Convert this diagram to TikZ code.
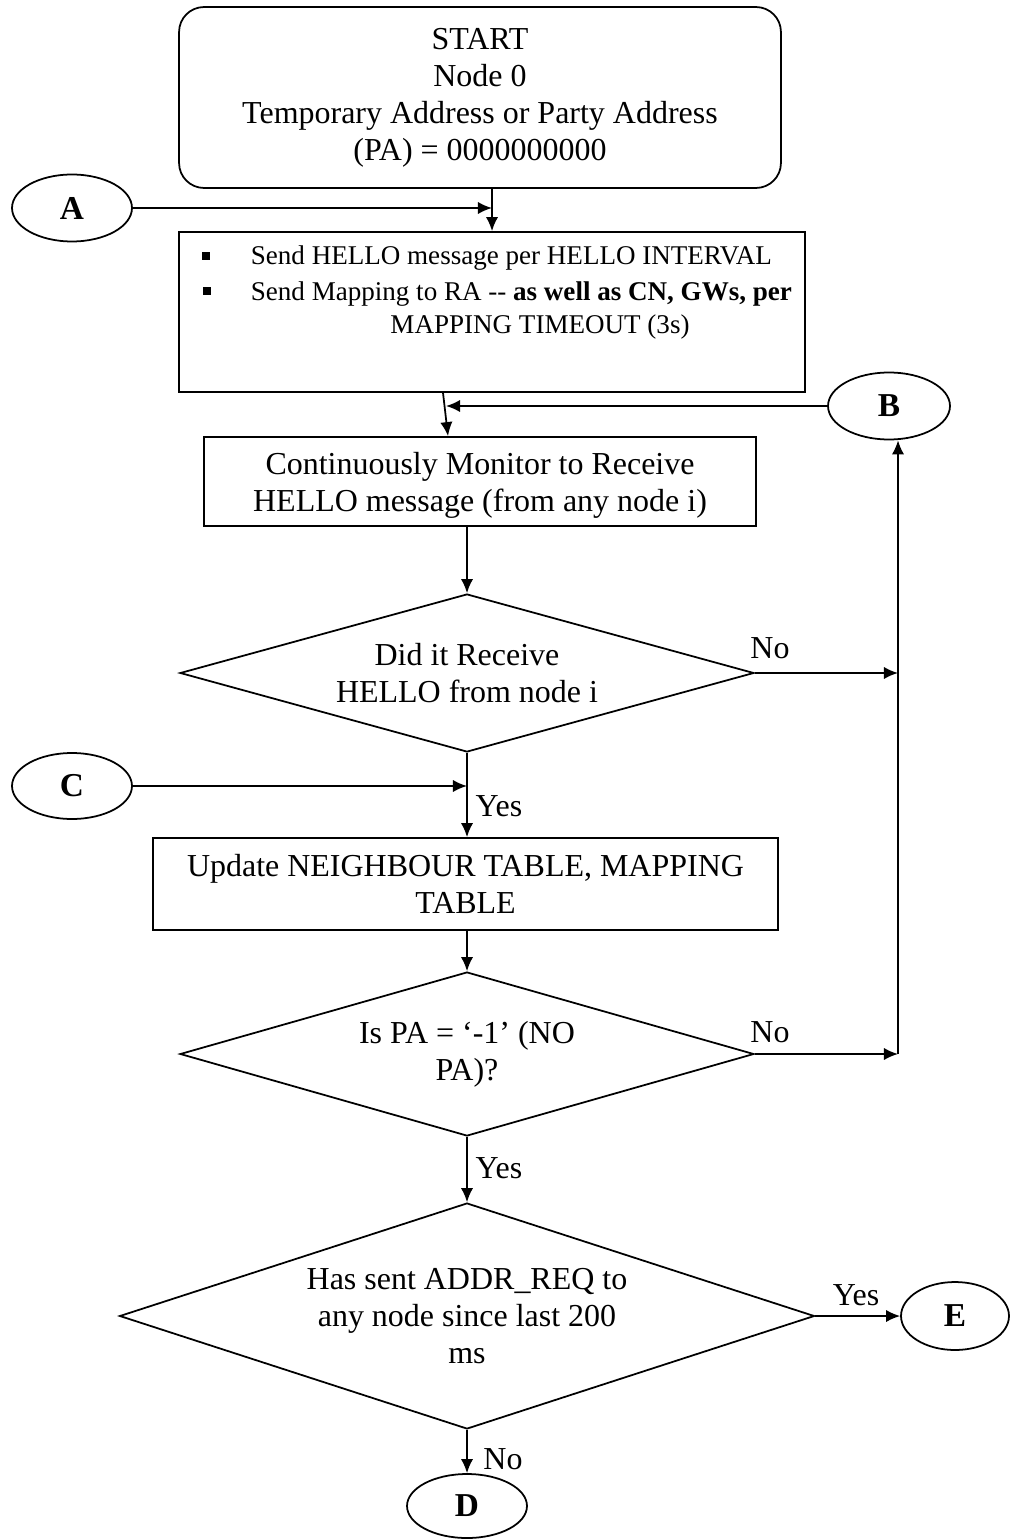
\documentclass[tikz,border=0pt]{standalone}
\usepackage{fontspec}
\setmainfont{Liberation Serif}
\usepackage{tikz}
\usetikzlibrary{arrows.meta, shapes.geometric, positioning}
\tikzset{>={Latex[length=8pt,width=7pt]}}
\tikzset{
  box/.style = {draw, line width=1pt, align=center, inner sep=0pt, font=\fontsize{18.2}{21}\selectfont},
  rbox/.style = {box, rounded corners=0.5cm},
  dec/.style = {box, diamond, aspect=3.5},
  conn/.style = {draw, ellipse, line width=1pt, inner sep=0pt, font=\fontsize{19}{22}\selectfont\bfseries},
  lbl/.style = {inner sep=0pt, font=\fontsize{18.2}{21}\selectfont},
  bul/.style = {inner sep=0pt, font=\fontsize{15.4}{18}\selectfont},
  sq/.style = {fill, inner sep=0pt}
}

\begin{document}
\begin{tikzpicture}[x=0.02cm, y=-0.02cm, line width=1pt]
\useasboundingbox (0,0) rectangle (1010,1540);
% boxes
\node[rbox, minimum width=12.04cm, minimum height=3.62cm] (start) at (480,97.5)
  {START\\Node 0\\Temporary Address or Party Address\\(PA) = 0000000000};
\node[box, minimum width=12.52cm, minimum height=3.2cm] (hello) at (492,312) {};
\node[sq, minimum size=0.15cm] (sq1) at (206,256) {};
\node[sq, minimum size=0.17cm] (sq2) at (207,291) {};
\node[bul, anchor=west] (t1) at (250,258) {Send HELLO message per HELLO INTERVAL};
\node[bul, anchor=west] (t2) at (250,294) {Send Mapping to RA -{}- \textbf{as well as CN, GWs, per}};
\node[bul] (t3) at (540,327) {MAPPING TIMEOUT (3s)};
\node[box, minimum width=11.04cm, minimum height=1.78cm, text depth=0pt] (monitor) at (480,481.5)
  {Continuously Monitor to Receive\\HELLO message (from any node i)};
\node[dec, minimum width=11.48cm, minimum height=3.16cm] (recv) at (467,673)
  {Did it Receive\\HELLO from node i};
\node[box, minimum width=12.5cm, minimum height=1.84cm] (update) at (465.5,884)
  {Update NEIGHBOUR TABLE, MAPPING\\TABLE};
\node[dec, minimum width=11.48cm, minimum height=3.28cm] (ispa) at (467,1054)
  {Is PA = ‘-1’ (NO\\PA)?};
\node[dec, minimum width=13.9cm, minimum height=4.52cm] (sent) at (467,1316)
  {Has sent ADDR\_REQ to\\any node since last 200\\ms};
% connectors
\node[conn, minimum width=2.4cm, minimum height=1.34cm] (A) at (72,208) {A};
\node[conn, minimum width=2.44cm, minimum height=1.34cm] (B) at (889,406) {B};
\node[conn, minimum width=2.4cm, minimum height=1.32cm] (C) at (72,786) {C};
\node[conn, minimum width=2.4cm, minimum height=1.28cm] (D) at (467,1506) {D};
\node[conn, minimum width=2.16cm, minimum height=1.36cm] (E) at (955,1316) {E};
\coordinate (jB) at (446,406);
\coordinate (rt1) at (898,673);
\coordinate (rt2) at (898,1054);
% arrows
\draw[->] (start.south -| hello.north) -- (hello.north);
\draw[->] (A.east) -- (A -| hello.north);
\draw[->] ([xshift=-0.98cm]hello.south) -- ([xshift=-0.64cm]monitor.north);
\draw[->] (B.west) -- (jB);
\draw[->] (monitor.south -| recv.north) -- (recv.north);
\draw[->] (recv.south) -- (update.north -| recv.south);
\draw[->] (C.east) -- (C -| recv.south);
\draw[->] (update.south -| ispa.north) -- (ispa.north);
\draw[->] (ispa.south) -- (sent.north);
\draw[->] (sent.south) -- (D.north);
\draw[->] (sent.east) -- (E.west);
\draw[->] (recv.east) -- (rt1);
\draw[->] (ispa.east) -- (rt2);
\draw[->] (rt2) -- (rt2 |- B.south);
% labels
\node[lbl] (no1) at (770,648) {No};
\node[lbl] (no2) at (770,1032) {No};
\node[lbl] (yes1) at (499,806) {Yes};
\node[lbl] (yes2) at (499,1168) {Yes};
\node[lbl] (yes3) at (856,1295) {Yes};
\node[lbl] (no3) at (503,1459) {No};
\end{tikzpicture}
\end{document}
